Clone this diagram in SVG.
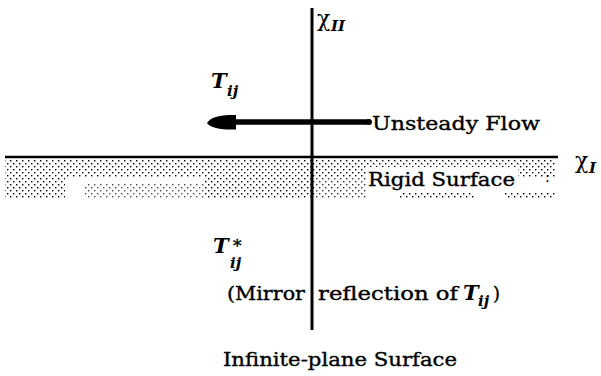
<svg xmlns="http://www.w3.org/2000/svg" width="601" height="376" viewBox="0 0 601 376">
<defs>
<style>
text{font-family:"DejaVu Serif","Liberation Serif",serif;fill:#000}
.r{stroke:#000;stroke-width:0.35}
.i{font-style:italic;font-weight:bold}
.ax{stroke:#000;fill:none}
</style>
<pattern id="dots" width="6" height="6" patternUnits="userSpaceOnUse">
<rect x="1" y="1" width="1.4" height="1.4" fill="#000"/>
<rect x="4" y="4" width="1.4" height="1.4" fill="#000"/>
</pattern>
</defs>
<rect width="601" height="376" fill="#fff"/>
<g id="surface-band">
<rect x="5" y="160" width="551" height="18" fill="url(#dots)"/>
<rect x="5" y="178" width="60" height="20" fill="url(#dots)"/>
<rect x="85" y="184" width="120" height="14" fill="url(#dots)" opacity="0.7"/>
<rect x="205" y="178" width="107" height="20" fill="url(#dots)"/>
<rect x="312" y="178" width="55" height="20" fill="url(#dots)" opacity="0.8"/>
<rect x="400" y="192" width="75" height="6" fill="url(#dots)"/>
<rect x="505" y="192" width="51" height="6" fill="url(#dots)"/>
<rect x="366" y="167" width="152" height="24" fill="#fff"/>
<text x="545" y="182" font-size="14">:</text>
</g>
<g id="connectors">
<line id="axis-x1" class="ax" x1="5" y1="157" x2="558" y2="157" stroke-width="2.6"/>
<line id="axis-x2" class="ax" x1="312" y1="8" x2="312" y2="330" stroke-width="3"/>
<g id="flow-arrow">
<line x1="230" y1="122" x2="369" y2="122" stroke="#000" stroke-width="5.5"/>
<circle cx="369" cy="122" r="3" fill="#000"/>
<path d="M207,123 C210,117 222,114.5 236,115 L236,129.5 C222,130 210,128 207,123 Z" fill="#000"/>
</g>
</g>
<g id="label-xII">
<text x="317" y="26" font-size="22">χ</text>
<text x="331" y="31" class="i" font-size="15">II</text>
</g>
<g id="label-xI">
<text x="575" y="168" font-size="22">χ</text>
<text x="589" y="173" class="i" font-size="15">I</text>
</g>
<g id="label-Tij">
<text x="211" y="88" class="i" font-size="21">T</text>
<text x="227" y="96" class="i" font-size="15">ij</text>
</g>
<g id="label-flow">
<text x="372" y="130" class="r" font-size="18" textLength="168" lengthAdjust="spacingAndGlyphs">Unsteady Flow</text>
</g>
<g id="label-rigid">
<text x="368" y="186" class="r" font-size="18" textLength="147" lengthAdjust="spacingAndGlyphs">Rigid Surface</text>
</g>
<g id="label-Tstar">
<text x="213" y="253" class="i" font-size="21">T</text>
<text x="233" y="252" class="r" font-size="17">*</text>
<text x="230" y="268" class="i" font-size="15">ij</text>
</g>
<g id="label-mirror">
<text x="227" y="300" class="r" font-size="18" textLength="78" lengthAdjust="spacingAndGlyphs">(Mirror</text>
<text x="318" y="300" class="r" font-size="18" textLength="140" lengthAdjust="spacingAndGlyphs">reflection of</text>
<text x="463" y="300" class="i" font-size="21">T</text>
<text x="478" y="306" class="i" font-size="15">ij</text>
<text x="493" y="300" class="r" font-size="18">)</text>
</g>
<g id="label-caption">
<text x="223" y="366" class="r" font-size="18" textLength="234" lengthAdjust="spacingAndGlyphs">Infinite-plane Surface</text>
</g>
</svg>
